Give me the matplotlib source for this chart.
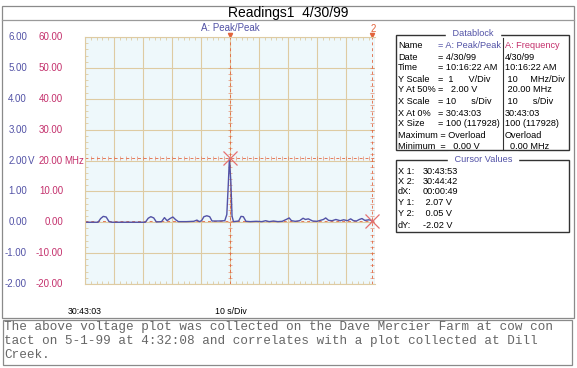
"""Readings1 scope capture: peak/peak voltage trace with datablock and cursor panel."""
import numpy as np
import matplotlib.pyplot as plt
from matplotlib.patches import Rectangle
from matplotlib.lines import Line2D
from matplotlib.ticker import MultipleLocator

W, H = 577, 368

# --- data (time in s from 30:43:03, peak/peak volts) ---
t = [0, 4.5, 5.4, 6.3, 7.3, 8.3, 9.3, 12, 16, 20.8, 21.8, 22.7, 23.7, 24.6,
     26.4, 27.4, 28.3, 29.3, 30.3, 31.3, 32.2, 35, 37.5, 38.6, 39.4, 40.2,
     41.0, 42.0, 43.0, 43.8, 46, 48.2, 48.9, 49.4, 49.8, 50.3, 50.7, 51.2,
     53.0, 53.8, 54.6, 55.5, 57, 59, 61, 62.3, 63.5, 65, 66.5, 68, 69.6,
     70.4, 71.2, 72.5, 74, 75.2, 76.0, 77.0, 78.5, 80, 82.2, 83.0, 84.0,
     85.2, 86.5, 88, 89.2, 90.5, 91.6, 92.6, 93.6, 94.6, 95.5, 96.5, 98, 99]
v = [0.0, 0.0, 0.12, 0.19, 0.17, 0.02, 0.0, 0.0, 0.0, 0.0, 0.13, 0.18,
     0.14, 0.01, 0.02, 0.15, 0.05, 0.12, 0.17, 0.08, 0.02, 0.02, 0.03, 0.07,
     0.02, 0.05, 0.18, 0.21, 0.18, 0.04, 0.04, 0.05, 0.25, 1.2, 2.07, 1.3,
     0.2, 0.02, 0.04, 0.19, 0.18, 0.03, 0.02, 0.03, 0.02, 0.05, 0.02, 0.04,
     0.02, 0.03, 0.1, 0.14, 0.05, 0.03, 0.05, 0.13, 0.09, 0.11, 0.04, 0.03,
     0.09, 0.14, 0.06, 0.05, 0.09, 0.05, 0.08, 0.05, 0.11, 0.05, 0.04, 0.09,
     0.12, 0.06, 0.08, 0.05]

cursor_x = [50, 99]
cursor_y = [2.07, 0.05]

volt_ticks = [6, 5, 4, 3, 2, 1, 0, -1, -2]
freq_ticks = [60, 50, 40, 30, 20, 10, 0, -10, -20]

db_labels = ["Name", "Date", "Time", "Y Scale", "Y At 50%", "X Scale",
             "X At 0%", "X Size"]
db_values_a = ["= A: Peak/Peak", "= 4/30/99", "= 10:16:22 AM",
               "=  1      V/Div", "=   2.00 V", "= 10      s/Div",
               "= 30:43:03", "= 100 (117928)"]
db_values_b = ["A: Frequency", "4/30/99", "10:16:22 AM", " 10     MHz/Div",
               " 20.00 MHz", " 10      s/Div", "30:43:03", "100 (117928)"]
db_rows_y = [46, 57, 68, 80, 90, 102, 113, 124]

cur_labels = ["X 1:", "X 2:", "dX:", "Y 1:", "Y 2:", "dY:"]
cur_values = ["30:43:53", "30:44:42", "00:00:49", " 2.07 V", " 0.05 V", "-2.02 V"]
cur_rows_y = [171, 182, 192, 203, 214, 225]

note_lines = ["The above voltage plot was collected on the Dave Mercier Farm at cow con",
              "tact on 5-1-99 at 4:32:08 and correlates with a plot collected at Dill",
              "Creek."]
note_rows_y = [327, 341, 355]

BLUE = "#5252a6"
MAG = "#c4306c"
CUR = "#e2643c"
GRID = "#decba2"
FONT = ["Liberation Sans Narrow", "Liberation Sans", "DejaVu Sans"]

plt.rcParams["font.family"] = FONT


def fx(x):
    return x / W


def fy(y):
    return 1 - y / H


def ftext(x, y, s, **kw):
    kw.setdefault("fontsize", 6.6)
    kw.setdefault("va", "center")
    fig.text(fx(x), fy(y), s, **kw)


def box(x0, y0, x1, y1, **kw):
    fig.add_artist(Rectangle((fx(x0), fy(y1)), fx(x1) - fx(x0), fy(y0) - fy(y1),
                             transform=fig.transFigure, fill=False, **kw))


def hline(x0, x1, y, **kw):
    fig.add_artist(Line2D([fx(x0), fx(x1)], [fy(y), fy(y)], transform=fig.transFigure, **kw))


def vline(x, y0, y1, **kw):
    fig.add_artist(Line2D([fx(x), fx(x)], [fy(y0), fy(y1)], transform=fig.transFigure, **kw))


fig = plt.figure(figsize=(W / 100, H / 100), dpi=100)

# --- frames ---
box(2, 6, 574, 318, lw=0.9, edgecolor="#8a8a8a")
hline(2, 574, 20, lw=0.9, color="#9a9a9a")
box(3, 320, 572, 365, lw=0.9, edgecolor="#8a8a8a")
ftext(288, 13, "Readings1  4/30/99", fontsize=10, ha="center",
      family=["Liberation Sans", "DejaVu Sans"])

# --- scope plot ---
px0, px1, py0, py1 = 85, 375, 37, 284
ax = fig.add_axes([fx(px0), fy(py1), fx(px1) - fx(px0), fy(py0) - fy(py1)])
ax.set_facecolor("#eef8fb")
ax.set_xlim(0, 100)
ax.set_ylim(-2, 6)
ax.xaxis.set_major_locator(MultipleLocator(10))
ax.yaxis.set_major_locator(MultipleLocator(1))
ax.xaxis.set_minor_locator(MultipleLocator(2))
ax.yaxis.set_minor_locator(MultipleLocator(0.2))
ax.grid(True, which="major", color=GRID, lw=0.8)
ax.tick_params(which="both", direction="in", colors=GRID, top=True, bottom=True,
               left=True, right=False, labelbottom=False, labelleft=False)
ax.tick_params(which="minor", length=2.5)
ax.tick_params(which="major", length=0)
for side in ["top", "bottom", "left"]:
    ax.spines[side].set_color(GRID)
    ax.spines[side].set_linewidth(0.8)
ax.spines["right"].set_visible(False)

# cursors
for cx in cursor_x:
    ax.axvline(cx, color=CUR, lw=0.7, ls=(0, (3, 3)), alpha=0.85)
    ax.plot([cx] * 36, np.linspace(-2, 5, 36), ls="none", marker="_",
            ms=2.5, mew=0.5, color=CUR, alpha=0.7)
    ax.plot(cx, 6.05, marker="v", ms=3, color=CUR, clip_on=False)
for cy in cursor_y:
    ax.axhline(cy, color=CUR, lw=0.7, ls=(0, (3, 3)), alpha=0.85)
ax.plot(np.arange(0, 100, 2), [cursor_y[0]] * 50, ls="none", marker="|",
        ms=2.5, mew=0.5, color=CUR, alpha=0.7)

ax.plot(t, v, color=BLUE, lw=1.0)
ax.plot(cursor_x, cursor_y, ls="none", marker="x", ms=10, mew=0.9, color="#e57070",
        clip_on=False)

ftext(230, 28, "A: Peak/Peak", color=BLUE, ha="center", fontsize=7)
ftext(373, 29, "2", color=CUR, ha="center", fontsize=7)

# y labels
for vt, ft in zip(volt_ticks, freq_ticks):
    yy = py1 - (vt + 2) / 8 * (py1 - py0)
    ftext(27, yy, f"{vt:.2f}", color=BLUE, ha="right", fontsize=7)
    ftext(63, yy, f"{ft:.2f}", color=MAG, ha="right", fontsize=7)
    if vt == 2:
        ftext(27.5, yy, "V", color=BLUE, ha="left", fontsize=7)
        ftext(64, yy, "MHz", color=MAG, ha="left", fontsize=7)

ftext(85, 312, "30:43:03", ha="center", fontsize=6.3)
ftext(231, 312, "10 s/Div", ha="center", fontsize=6.3)

# --- datablock ---
box(396, 35, 569, 150, lw=1.0, edgecolor="#333333")
vline(503, 38, 150, lw=0.8, color="#333333")
ftext(473, 34, " Datablock ", color=BLUE, ha="center", backgroundcolor="white")
for i, (lab, va, vb, yy) in enumerate(zip(db_labels, db_values_a, db_values_b, db_rows_y)):
    ftext(398, yy, lab)
    ftext(438, yy, va, color=BLUE if i == 0 else "black")
    ftext(505, yy, vb, color=MAG if i == 0 else "black")
ftext(398, 136, "Maximum = Overload")
ftext(398, 147, "Minimum  =   0.00 V")
ftext(505, 136, "Overload")
ftext(510, 147, "0.00 MHz")

# --- cursor values ---
box(396, 160, 569, 232, lw=1.0, edgecolor="#333333")
ftext(483, 160, " Cursor Values ", color=BLUE, ha="center", backgroundcolor="white")
for lab, val, yy in zip(cur_labels, cur_values, cur_rows_y):
    ftext(398, yy, lab)
    ftext(423, yy, val)

# --- note ---
for line, yy in zip(note_lines, note_rows_y):
    ftext(4, yy, line, fontsize=9.1, color="#666666",
          family=["Liberation Mono", "DejaVu Sans Mono"])

fig.savefig("out.png", dpi=100)
